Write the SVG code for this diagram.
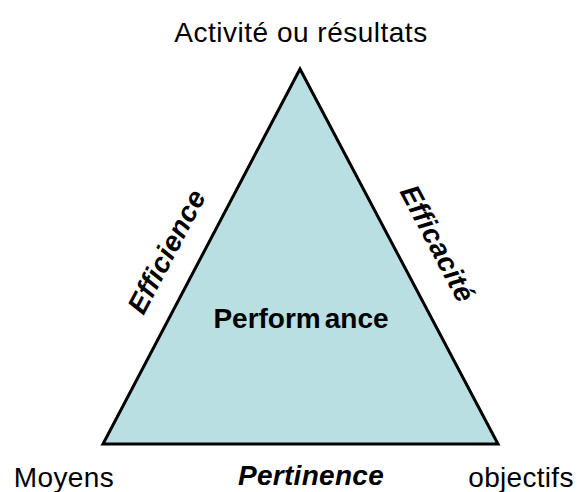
<svg xmlns="http://www.w3.org/2000/svg" width="580" height="492" viewBox="0 0 580 492">
<style>
.t{font-family:"Liberation Sans",Arial,sans-serif;font-size:28px;fill:#000;text-anchor:middle}
.b{font-weight:bold}
.bi{font-weight:bold;font-style:italic}
.tri{fill:#b9dfe2;stroke:#000;stroke-width:3;stroke-linejoin:miter}
</style>
<rect width="580" height="492" fill="#fff"/>
<g id="triangle">
<polygon class="tri" points="300,69 103,444 498,444"/>
</g>
<g id="connectors"/>
<g id="apex"><text class="t" x="301" y="42" letter-spacing="0.5">Activité ou résultats</text></g>
<g id="center"><text class="t b" x="301" y="328">Perform<tspan dx="4">ance</tspan></text></g>
<g id="efficience"><text class="t bi" transform="translate(175,256) rotate(-62.3)" x="0" y="0" letter-spacing="0.4">Efficience</text></g>
<g id="efficacite"><text class="t bi" transform="translate(429,248) rotate(62.2)" x="0" y="0" letter-spacing="0.4">Efficacité</text></g>
<g id="moyens"><text class="t" x="64" y="487" letter-spacing="0.4">Moyens</text></g>
<g id="pertinence"><text class="t bi" x="311" y="485" letter-spacing="0.3">Pertinence</text></g>
<g id="objectifs"><text class="t" x="521" y="487" letter-spacing="0.3">objectifs</text></g>
</svg>
